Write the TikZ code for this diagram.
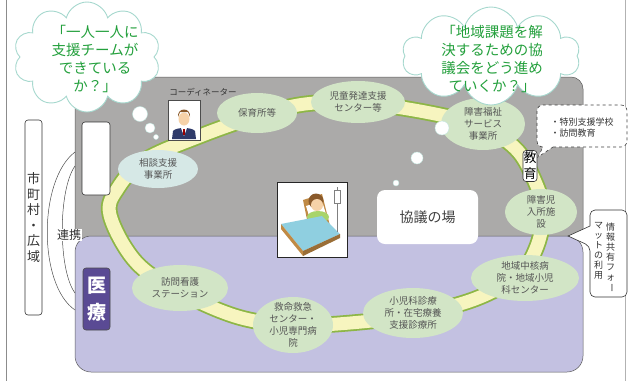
\documentclass[tikz,border=0pt]{standalone}
\usepackage{fontspec}
\setmainfont{Noto Sans CJK JP}
\usetikzlibrary{shapes.geometric,shapes.symbols}

\definecolor{panelgray}{HTML}{ABAAA9}
\definecolor{panelpurple}{HTML}{C3C1E1}
\definecolor{orggreen}{HTML}{D2E5C6}
\definecolor{orgblue}{HTML}{D6E8E6}
\definecolor{ringyellow}{HTML}{F7F5BF}
\definecolor{ringgreen}{HTML}{8DB646}
\definecolor{cloudline}{HTML}{A6D8CE}
\definecolor{askgreen}{HTML}{23A03C}
\definecolor{labelpurple}{HTML}{5A4A94}
\definecolor{txtgray}{HTML}{555555}
\definecolor{bedbrown}{HTML}{C08A45}
\definecolor{blanket}{HTML}{8FCFE0}
\definecolor{skin}{HTML}{F6D2A8}
\definecolor{hairbrown}{HTML}{8A5A2B}
\definecolor{suitnavy}{HTML}{2E3A6A}
\definecolor{shirtgreen}{HTML}{A8D46A}

\newcommand{\tatebar}{\rotatebox[origin=c]{-90}{ー}}

\tikzset{
  org/.style={ellipse, fill=orggreen, text=txtgray, align=center,
    inner xsep=0pt, inner ysep=-4pt, font=\fontsize{9.5}{12}\selectfont},
  askcloud/.style={cloud, cloud puffs=10, cloud ignores aspect, draw=cloudline,
    fill=white, line width=0.9pt},
  asktext/.style={text=askgreen, align=center, font=\fontsize{14.5}{18}\selectfont},
  bubble/.style={fill=white, draw=cloudline!70, line width=0.4pt},
  colbox/.style={draw=black!80, fill=white, rounded corners=3pt, line width=0.6pt,
    inner sep=1.5pt, align=center},
}

\begin{document}
\begin{tikzpicture}[x=1pt, y=-1pt]
\useasboundingbox (0,0) rectangle (628,381);
% frame
\draw[black!45, line width=0.6pt] (6,0) -- (6,381);
\draw[black!30, line width=0.6pt] (625,0) -- (625,381);

% the two panels
\filldraw[fill=panelgray, draw=black!65, line width=0.5pt, rounded corners=12pt] (75,77) rectangle (583,241);
\filldraw[fill=panelpurple, draw=black!65, line width=0.5pt, rounded corners=16pt] (75,236) rectangle (583,372);

% ring
\draw[draw=ringgreen, line width=1.8pt, double=ringyellow, double distance=13pt]
  plot[smooth cycle, tension=0.6] coordinates {(110,215) (118,188) (145,160) (200,136) (257,116)
  (305,104) (360,103) (425,112) (480,126) (515,148) (533,177) (543,210) (537,246) (518,275)
  (475,299) (413,315) (350,323) (293,325) (238,317) (180,292) (136,262)};

% members on the ring
\node[org, fill=orgblue, minimum width=80pt, minimum height=38pt] (sodan) at (158,169) {相談支援\\事業所};
\node[org, minimum width=80pt, minimum height=40pt] (hoiku) at (257,113) {保育所等};
\node[org, minimum width=94pt, minimum height=42pt] (jidou) at (358,102) {児童発達支援\\センター等};
\node[org, minimum width=84pt, minimum height=52pt] (fukushi) at (483,124) {障害福祉\\サービス\\事業所};
\node[org, minimum width=72pt, minimum height=46pt] (nyusho) at (541,212) {障害児\\入所施\\設};
\node[org, minimum width=108pt, minimum height=46pt] (chiiki) at (525,278) {地域中核病\\院・地域小児\\科センター};
\node[org, minimum width=100pt, minimum height=50pt] (shinryo) at (413,313) {小児科診療\\所・在宅療養\\支援診療所};
\node[org, minimum width=80pt, minimum height=56pt] (kyumei) at (293,325) {救命救急\\センター・\\小児専門病\\院};
\node[org, minimum width=96pt, minimum height=46pt] (houmon) at (180,288) {訪問看護\\ステーション};

% meeting box
\node[fill=white, rounded corners=8pt, minimum width=101pt, minimum height=54pt,
  text=black!75, font=\fontsize{14}{16}\selectfont] (kyogi) at (427.5,217) {協議の場};

% child in bed
\node[draw=black!85, fill=white, line width=0.6pt, minimum width=70pt, minimum height=75pt, inner sep=0pt] (patient) at (312,219.5) {};
\fill[bedbrown] (303,200) -- (322,194) -- (330,226) -- (310,234) -- cycle;
\fill[white] (306,206) -- (322,201) -- (326,214) -- (310,219) -- cycle;
\fill[hairbrown] (316,201) circle (7.5);
\fill[skin] (317,205) circle (6);
\fill[shirtgreen] (318,217) ellipse (11 and 6);
\fill[blanket] (281,224) -- (322,216) -- (340,234) -- (303,251) -- cycle;
\fill[bedbrown] (281,224) -- (303,251) -- (303,256) -- (281,229) -- cycle;
\fill[bedbrown!80!black] (303,251) -- (340,234) -- (340,238) -- (303,256) -- cycle;
\draw[black!50, line width=0.8pt] (337,187) -- (337,232);
\filldraw[fill=white, draw=black!50, line width=0.5pt] (334,190) rectangle (340,203);

% coordinator
\node[draw=black!70, fill=white, line width=0.5pt, minimum width=32pt, minimum height=40pt, inner sep=0pt] (coord) at (184,120) {};
\fill[suitnavy] (172,139) -- (173,131) .. controls (176,127) and (192,127) .. (195,131) -- (196,139) -- cycle;
\fill[white] (181,128) -- (187,128) -- (184,136) -- cycle;
\fill[red!60!black] (183.3,129) rectangle (184.7,135);
\fill[skin] (184,119) ellipse (5.5 and 6.5);
\fill[hairbrown] (178,117) .. controls (177,107) and (191,107) .. (190,117) -- (188,112) -- (180,112) -- cycle;
\node[text=black!80, font=\fontsize{8.5}{10}\selectfont] (coordname) at (203,92) {コーディネーター};

% questions
\node[askcloud, minimum width=147pt, minimum height=110pt] (askL) at (87,57) {};
\node[asktext] (askLtext) at (95,59) {「一人一人に\\支援チームが\\できている\\か？」};
\node[askcloud, minimum width=178pt, minimum height=98pt] (askR) at (491,56) {};
\node[asktext] (askRtext) at (492,59) {「地域課題を解\\決するための協\\議会をどう進め\\ていくか？」};
\filldraw[bubble] (140,114) circle (7.5);
\filldraw[bubble] (150,128) circle (5);
\filldraw[bubble] (156,137) circle (2.5);
\filldraw[bubble] (442,128) circle (7);
\filldraw[bubble] (417,158) circle (6);
\filldraw[bubble] (396,183) circle (3);

% left side
\node[colbox, minimum width=17pt, minimum height=195pt, text=black!80,
  font=\fontsize{13}{15.5}\selectfont] (shicho) at (33.5,217.5) {市\\町\\村\\・\\広\\域};
\node[colbox, minimum width=28pt, minimum height=73pt] (blank) at (96,158.5) {};
\node[colbox, fill=labelpurple, draw=black!70, text=white, minimum width=27pt, minimum height=62pt,
  font=\fontsize{19}{27}\selectfont\bfseries] (iryo) at (96.5,299) {医\\療};
\draw[black!70, line width=0.5pt] (75,152) .. controls (38,180) and (38,285) .. (75,310);
\draw[black!70, line width=0.5pt] (75,166) .. controls (58,190) and (58,270) .. (75,293);
\node[fill=white, inner sep=0.5pt, text=black!80, font=\fontsize{12}{14}\selectfont] (renkei) at (69,235) {連携};

% education
\node[colbox, inner xsep=0.5pt, font=\fontsize{13}{16}\selectfont] (kyoiku) at (530,166) {教\\育};
\filldraw[fill=white, draw=black!75, line width=0.6pt, dashed] (553,147) [rounded corners=6pt] -- (627,147) -- (627,105)
  -- (537,105) -- (537,147) [sharp corners] -- (543,147) -- (538,157) -- cycle;
\node[align=left, text=black!80, font=\fontsize{9}{11}\selectfont] (edunote) at (582,127.5) {・特別支援学校\\・訪問教育};

% shared format
\filldraw[fill=white, draw=black!80, line width=0.6pt] (568,236) -- (590,226) [rounded corners=5pt] -- (590,210)
  -- (627,210) -- (627,297) -- (590,297) -- (590,246) [sharp corners] -- cycle;
\node[anchor=north, align=center, text=black!80, font=\fontsize{9}{10}\selectfont] (infoR) at (610.5,219) {情\\報\\共\\有\\フ\\ォ\\\tatebar};
\node[anchor=north, align=center, text=black!80, font=\fontsize{9}{10}\selectfont] (infoL) at (598.5,219) {マ\\ッ\\ト\\の\\利\\用};
\end{tikzpicture}
\end{document}
